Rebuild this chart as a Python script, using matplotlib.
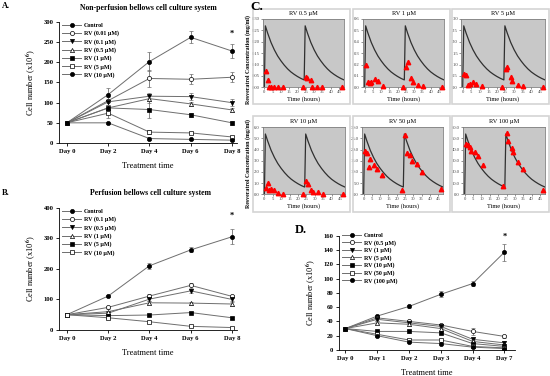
import numpy as np
import matplotlib.pyplot as plt
from matplotlib.lines import Line2D
from matplotlib.patches import Rectangle

plt.rcParams['font.family'] = ['Liberation Serif', 'DejaVu Serif']
plt.rcParams['font.weight'] = 'bold'
plt.rcParams['mathtext.fontset'] = 'stix'

W, H = 550, 376

# ---- panel A: non-perfusion ----
days_a = ['Day 0', 'Day 2', 'Day 4', 'Day 6', 'Day 8']
labels_a = ['Control', 'RV (0.01 µM)', 'RV (0.1 µM)', 'RV (0.5 µM)', 'RV (1 µM)', 'RV (5 µM)', 'RV (10 µM)']
vals_a = [[50, 120, 202, 262, 228],
          [50, 105, 160, 158, 163],
          [50, 102, 116, 115, 100],
          [50, 87, 110, 97, 82],
          [50, 87, 83, 70, 50],
          [50, 74, 27, 25, 15],
          [50, 50, 11, 9, 7]]
errs_a = [[0, 16, 24, 15, 18],
          [0, 10, 20, 12, 12],
          [0, 8, 8, 8, 8],
          [0, 6, 10, 5, 5],
          [0, 8, 22, 5, 5],
          [0, 12, 4, 3, 3],
          [0, 3, 3, 2, 2]]

# ---- panel B: perfusion ----
days_b = ['Day 0', 'Day 2', 'Day 4', 'Day 6', 'Day 8']
labels_b = ['Control', 'RV (0.1 µM)', 'RV (0.5 µM)', 'RV (1 µM)', 'RV (5 µM)', 'RV (10 µM)']
vals_b = [[50, 111, 210, 262, 305],
          [50, 74, 111, 146, 110],
          [50, 55, 101, 128, 100],
          [50, 60, 89, 88, 85],
          [50, 47, 49, 57, 40],
          [50, 40, 27, 12, 8]]
errs_b = [[0, 4, 10, 8, 25],
          [0, 4, 6, 8, 6],
          [0, 4, 6, 6, 6],
          [0, 3, 5, 5, 5],
          [0, 3, 3, 3, 3],
          [0, 3, 3, 2, 2]]

# ---- panel D ----
days_d = ['Day 0', 'Day 1', 'Day 2', 'Day 3', 'Day 4', 'Day 7']
labels_d = ['Control', 'RV (0.5 µM)', 'RV (1 µM)', 'RV (5 µM)', 'RV (10 µM)', 'RV (50 µM)', 'RV (100 µM)']
vals_d = [[30, 47.5, 61, 78, 93, 137],
          [30, 45, 40, 35, 26, 19],
          [30, 43, 38, 33, 15, 10],
          [30, 38, 36, 30, 12, 7],
          [30, 26, 26, 24, 9, 5],
          [30, 22, 14, 14, 5, 3],
          [30, 20, 11, 9, 4, 2]]
errs_d = [[0, 2, 2, 4, 3, 12],
          [0, 2, 2, 2, 5, 2],
          [0, 2, 2, 2, 2, 2],
          [0, 2, 2, 2, 2, 2],
          [0, 2, 2, 2, 2, 1],
          [0, 2, 2, 2, 1, 1],
          [0, 2, 1, 1, 1, 1]]

# ---- panel C: resveratrol concentration ----
c_titles = ['RV 0.5 µM', 'RV 1 µM', 'RV 5 µM', 'RV 10 µM', 'RV 50 µM', 'RV 100 µM']
c_ymax = [0.30, 0.6, 3.0, 6.0, 30.0, 60.0]
c_ystep = [0.05, 0.1, 0.5, 1.0, 5.0, 10.0]
c_fmt = ['%.2f', '%.1f', '%.1f', '%.1f', '%.1f', '%.1f']
c_peak = [0.27, 0.54, 2.7, 5.4, 27.0, 54.0]
curve_t = [0, 0.6, 2, 4, 6, 8, 10, 12, 14, 16, 18, 20, 22, 24,
           24.6, 26, 28, 30, 32, 34, 36, 38, 40, 42, 44, 46, 48]
curve_rel = [0, 1.0, 0.88, 0.73, 0.61, 0.51, 0.43, 0.36, 0.30, 0.25, 0.21, 0.175, 0.145, 0.12,
             1.0, 0.88, 0.73, 0.61, 0.51, 0.43, 0.36, 0.30, 0.25, 0.21, 0.175, 0.145, 0.12]
sample_t = [1, 2, 3, 4, 6, 8, 11, 23, 25, 26, 28, 29, 32, 35, 47]
samples = [[0.07, 0.03, 0, 0, 0, 0, 0, 0, 0.045, 0.04, 0.03, 0, 0, 0, 0],
           [0.2, 0.045, 0.04, 0.045, 0.07, 0.055, 0.01, 0, 0.18, 0.22, 0.085, 0.05, 0.02, 0.01, 0],
           [0.59, 0.55, 0.1, 0.13, 0.25, 0.15, 0.06, 0, 0.8, 0.87, 0.45, 0.28, 0.1, 0.06, 0],
           [0.6, 1.05, 0.4, 0.48, 0.4, 0.15, 0.0, 0.0, 1.2, 0.9, 0.39, 0.24, 0.18, 0.0, 0.0],
           [19.6, 18.6, 12.2, 15.9, 12.9, 11.4, 8.5, 1.8, 26.6, 18.6, 17.4, 14.7, 13.7, 10.2, 2.2],
           [44.7, 44.1, 42, 39, 38.1, 34.2, 26.1, 7.5, 54.7, 47.7, 41.7, 37.5, 29.1, 22.5, 3.6]]

markers = [('o', True), ('o', False), ('v', True), ('^', False), ('s', True), ('s', False), ('o', True)]


def fbox(x0, y0, x1, y1):
    return [x0 / W, 1 - y1 / H, (x1 - x0) / W, (y1 - y0) / H]


fig = plt.figure(figsize=(W / 100, H / 100), dpi=100)


def growth(box, days, labels, vals, errs, ymax, ystep, xr, star, leg_xy, leg_sp):
    ax = fig.add_axes(box)
    handles = []
    for i, (v, e) in enumerate(zip(vals, errs)):
        m, filled = markers[i]
        fc = 'black' if filled else 'white'
        ax.errorbar(range(len(v)), v, yerr=e, color='#6e6e6e', lw=0.7, elinewidth=0.6,
                    capsize=1.5, capthick=0.6, marker=m, ms=3, mfc=fc, mec='black', mew=0.5, zorder=3)
        handles.append(Line2D([], [], color='#6e6e6e', lw=0.7, marker=m, ms=3, mfc=fc, mec='black', mew=0.5))
    ax.text(len(days) - 1, star, '*', ha='center', va='center', fontsize=6)
    ax.set_xlim(*xr)
    ax.set_ylim(0, ymax)
    ax.set_xticks(range(len(days)))
    ax.set_xticklabels(days)
    ax.set_yticks(np.arange(0, ymax + 1, ystep))
    ax.tick_params(labelsize=4.8, length=2, width=0.6, pad=2)
    for s in ['top', 'right']:
        ax.spines[s].set_visible(False)
    for s in ['left', 'bottom']:
        ax.spines[s].set_linewidth(0.6)
    ax.set_ylabel(r'Cell number (x10$^{\mathbf{6}}$)', fontsize=6, labelpad=4)
    ax.set_xlabel('Treatment time', fontsize=6, labelpad=6)
    ax.legend(handles, labels, loc='upper left', bbox_to_anchor=(leg_xy[0] / W, 1 - leg_xy[1] / H),
              bbox_transform=fig.transFigure, frameon=False, fontsize=4.3, handlelength=3.2,
              handletextpad=0.4, labelspacing=leg_sp, borderpad=0, borderaxespad=0)
    return ax


growth(fbox(59, 22, 237, 143), days_a, labels_a, vals_a, errs_a, 300, 50, (-0.19, 4.12), 270, (62, 23), 0.42)
growth(fbox(59, 207.7, 237, 330), days_b, labels_b, vals_b, errs_b, 400, 100, (-0.19, 4.12), 372, (62, 209), 0.42)
growth(fbox(339, 235.7, 515, 350), days_d, labels_d, vals_d, errs_d, 160, 20, (-0.2, 5.33), 158, (342, 233), 0.3)

fig.text(2 / W, 1 - 6 / H, 'A.', fontsize=6, va='center')
fig.text(2 / W, 1 - 193 / H, 'B.', fontsize=6, va='center')
fig.text(148 / W, 1 - 8 / H, 'Non-perfusion bellows cell culture system', fontsize=5.6, ha='center', va='center')
fig.text(150 / W, 1 - 193 / H, 'Perfusion bellows cell culture system', fontsize=5.6, ha='center', va='center')
fig.text(250 / W, 1 - 7 / H, 'C.', fontsize=9.5, va='center')
fig.text(295 / W, 1 - 230 / H, 'D.', fontsize=9, va='center')

# ---- panel C grid ----
boxes = [(253, 9, 350, 104), (353, 9, 450, 104), (452, 9, 549, 104),
         (253, 116, 350, 212), (353, 116, 450, 212), (452, 116, 549, 212)]
axboxes = [(262.7, 19, 344, 87.3), (363, 19, 444, 87.3), (461, 19, 545, 87.3),
           (262.7, 127.3, 345, 194.3), (362, 127.3, 443, 194.3), (463, 127.3, 545, 194.3)]

for k in range(6):
    bx = boxes[k]
    fig.patches.append(Rectangle((bx[0] / W, 1 - bx[3] / H), (bx[2] - bx[0]) / W, (bx[3] - bx[1]) / H,
                                 transform=fig.transFigure, fill=False, ec='#d4d4d4', lw=1.2))
    ax = fig.add_axes(fbox(*axboxes[k]))
    ax.set_facecolor('#c8c8c8')
    for s in ax.spines.values():
        s.set_color('#808080')
        s.set_linewidth(0.6)
    ax.plot(curve_t, [c_peak[k] * r for r in curve_rel], color='#303030', lw=0.9)
    ax.plot(sample_t, samples[k], ls='none', marker='^', ms=3.2, color='red', clip_on=False, zorder=4)
    ax.set_xlim(-1, 48)
    ax.set_ylim(0, c_ymax[k])
    ax.set_xticks(range(0, 46, 5))
    ax.set_yticks(np.arange(0, c_ymax[k] + c_ystep[k] / 2, c_ystep[k]))
    ax.yaxis.set_major_formatter(plt.FormatStrFormatter(c_fmt[k]))
    ax.tick_params(labelsize=3.3, length=1.2, width=0.4, pad=1, colors='#404040')
    for lab in ax.get_xticklabels() + ax.get_yticklabels():
        lab.set_fontweight('normal')
    ax.set_title(c_titles[k], fontsize=4.6, pad=3)
    ax.set_xlabel('Time (hours)', fontsize=4.6, labelpad=1)

fig.text(248 / W, 1 - 60 / H, 'Resveratrol Concentration (mg/ml)', fontsize=4.2, rotation=90, ha='center', va='center')
fig.text(248 / W, 1 - 164 / H, 'Resveratrol Concentration (mg/ml)', fontsize=4.2, rotation=90, ha='center', va='center')

fig.savefig('out.png', dpi=100)
